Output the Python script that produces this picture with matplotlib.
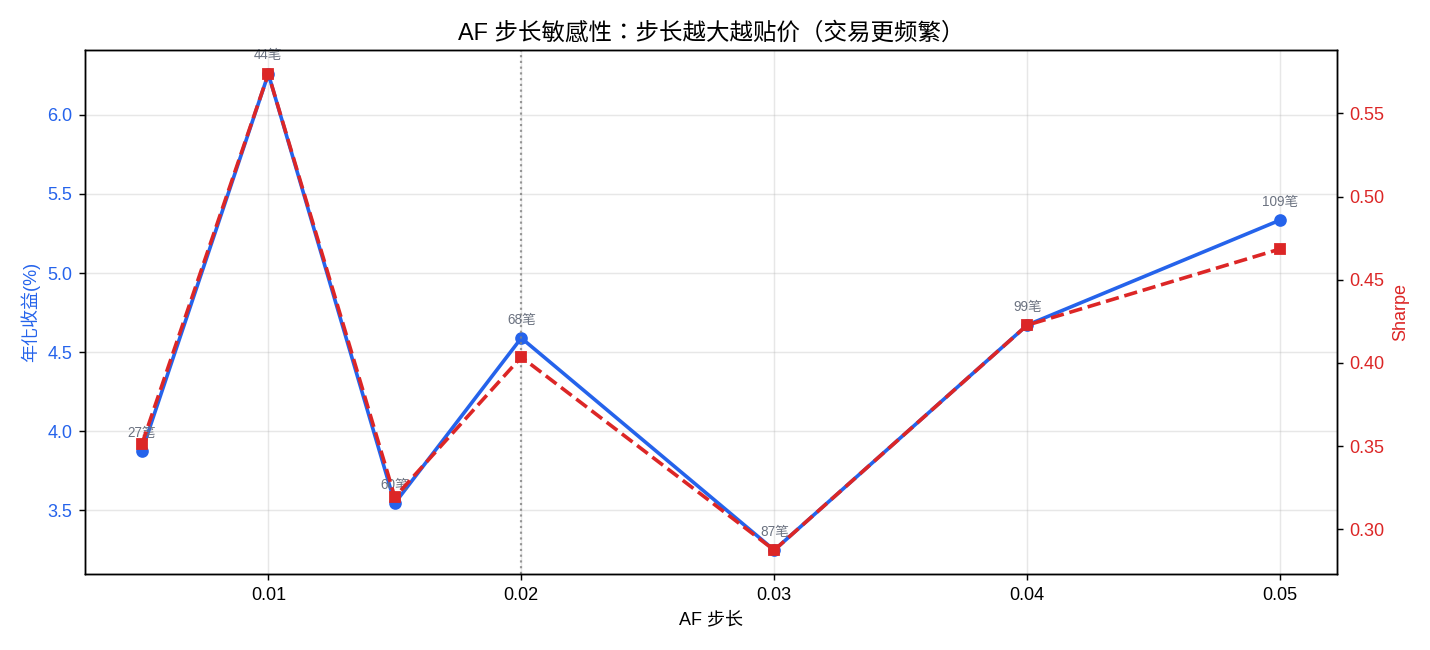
import matplotlib
matplotlib.use("Agg")
import matplotlib.pyplot as plt

plt.rcParams['font.family'] = ['Liberation Sans', 'Noto Sans CJK TC', 'DejaVu Sans']
plt.rcParams['axes.unicode_minus'] = False

af = [0.005, 0.01, 0.015, 0.02, 0.03, 0.04, 0.05]
ann_ret = [3.873, 6.26, 3.544, 4.589, 3.247, 4.671, 5.335]
sharpe = [0.3511, 0.5738, 0.3193, 0.4035, 0.2874, 0.4227, 0.4685]
trades = [27, 44, 60, 68, 87, 99, 109]

blue = '#2563eb'
red = '#dc2626'

fig, ax1 = plt.subplots(figsize=(11, 5), dpi=130)
ax1.plot(af, ann_ret, 'o-', color=blue, lw=2, ms=6, label='年化收益')
ax1.set_xlabel('AF 步长', fontsize=10)
ax1.set_ylabel('年化收益(%)', color=blue, fontsize=10)
ax1.tick_params(axis='y', labelcolor=blue)
ax1.grid(True, alpha=0.3)
ax1.axvline(0.02, color='gray', ls=':', lw=1.2, alpha=0.8)
for x, y, n in zip(af, ann_ret, trades):
    ax1.annotate(f'{n}笔', (x, y), textcoords='offset points', xytext=(0, 8),
                 ha='center', fontsize=7.5, color='#6b7280')

ax2 = ax1.twinx()
ax2.plot(af, sharpe, 's--', color=red, lw=2, ms=6, label='Sharpe')
ax2.set_ylabel('Sharpe', color=red, fontsize=10)
ax2.tick_params(axis='y', labelcolor=red)

ax1.set_title('AF 步长敏感性：步长越大越贴价（交易更频繁）', fontsize=13)
fig.subplots_adjust(left=0.0594, right=0.935, top=0.923, bottom=0.117)
fig.savefig('out.png')
